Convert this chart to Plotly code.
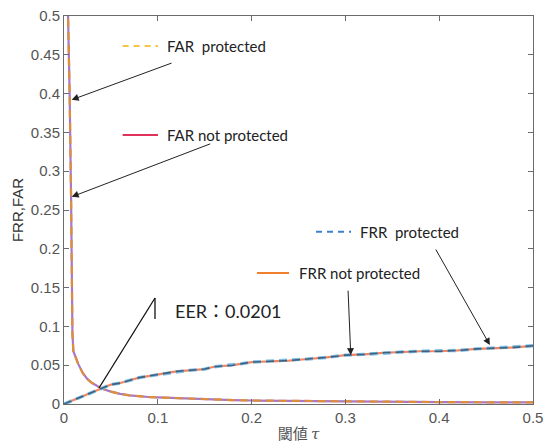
import plotly.graph_objects as go

# ---------------- data ----------------
tau_far = [0.003, 0.0045, 0.006, 0.0075, 0.0085, 0.009, 0.01, 0.015, 0.02, 0.025, 0.03, 0.035,
           0.04, 0.05, 0.06, 0.07, 0.08, 0.09, 0.1, 0.12, 0.14, 0.16, 0.18, 0.2, 0.25, 0.3,
           0.35, 0.4, 0.45, 0.5]
far_not_protected = [0.58, 0.50, 0.40, 0.27, 0.15, 0.09, 0.068, 0.052, 0.040, 0.032, 0.027, 0.023,
                     0.020, 0.016, 0.013, 0.011, 0.0098, 0.009, 0.0085, 0.0075, 0.0065, 0.0055, 0.005,
                     0.0045, 0.0038, 0.0032, 0.0028, 0.0025, 0.0022, 0.002]
far_protected = [0.58, 0.50, 0.40, 0.27, 0.15, 0.09, 0.068, 0.052, 0.040, 0.032, 0.027, 0.023,
                 0.020, 0.016, 0.013, 0.011, 0.0098, 0.009, 0.0085, 0.0075, 0.0065, 0.0055, 0.005,
                 0.0045, 0.0038, 0.0032, 0.0028, 0.0025, 0.0022, 0.002]

tau_frr = [0, 0.01, 0.02, 0.03, 0.04, 0.05, 0.06, 0.07, 0.08, 0.09, 0.1, 0.11, 0.12, 0.13, 0.14,
           0.15, 0.16, 0.17, 0.18, 0.19, 0.2, 0.22, 0.24, 0.26, 0.28, 0.3, 0.32, 0.34, 0.36,
           0.38, 0.4, 0.42, 0.44, 0.46, 0.48, 0.5]
frr_not_protected = [0, 0.005, 0.010, 0.016, 0.020, 0.025, 0.027, 0.031, 0.034, 0.036, 0.038, 0.040,
                     0.042, 0.043, 0.044, 0.045, 0.048, 0.049, 0.050, 0.052, 0.054, 0.055, 0.056,
                     0.058, 0.060, 0.063, 0.064, 0.066, 0.067, 0.068, 0.068, 0.069, 0.071, 0.072,
                     0.073, 0.075]
frr_protected = [0, 0.005, 0.010, 0.016, 0.020, 0.025, 0.027, 0.031, 0.034, 0.036, 0.038, 0.040,
                 0.042, 0.043, 0.044, 0.045, 0.048, 0.049, 0.050, 0.052, 0.054, 0.055, 0.056,
                 0.058, 0.060, 0.063, 0.064, 0.066, 0.067, 0.068, 0.068, 0.069, 0.071, 0.072,
                 0.073, 0.075]

eer_text = "EER：0.0201"
x_ticks = [0, 0.1, 0.2, 0.3, 0.4, 0.5]
x_ticklabels = ["0", "0.1", "0.2", "0.3", "0.4", "0.5"]
y_ticks = [0, 0.05, 0.1, 0.15, 0.2, 0.25, 0.3, 0.35, 0.4, 0.45, 0.5]
y_ticklabels = ["0", "0.05", "0.1", "0.15", "0.2", "0.25", "0.3", "0.35", "0.4", "0.45", "0.5"]

# ---------------- figure ----------------
DASH = "8px,5px"
fig = go.Figure()
fig.add_trace(go.Scatter(x=tau_far, y=far_not_protected, mode="lines",
                         line=dict(color="#A878C8", width=2.2), name="FAR not protected"))
fig.add_trace(go.Scatter(x=tau_far, y=far_protected, mode="lines",
                         line=dict(color="#DE8E3A", width=2.2, dash=DASH), name="FAR protected"))
fig.add_trace(go.Scatter(x=tau_frr, y=frr_not_protected, mode="lines",
                         line=dict(color="#F28660", width=2.2), name="FRR not protected"))
fig.add_trace(go.Scatter(x=tau_frr, y=frr_protected, mode="lines",
                         line=dict(color="#7EC0EA", width=3.4, dash=DASH), name="FRR protected",
                         showlegend=False))
fig.add_trace(go.Scatter(x=tau_frr, y=frr_protected, mode="lines",
                         line=dict(color="#40607E", width=1.6, dash=DASH), name="FRR protected"))

LBL = dict(family="Lato, Noto Sans, sans-serif", size=15, color="#222222")
ann = []
shapes = []

def legend_item(x0, x1, y, color, dash, text, tx):
    shapes.append(dict(type="line", xref="x", yref="y", x0=x0, x1=x1, y0=y, y1=y,
                       line=dict(color=color, width=2, dash=dash)))
    ann.append(dict(x=tx, y=y, xref="x", yref="y", text=text, showarrow=False,
                    xanchor="left", yanchor="middle", font=LBL))

legend_item(0.0625, 0.1002, 0.4613, "#F7C446", "6px,5px", "FAR&nbsp;&nbsp;protected", 0.1077)
legend_item(0.0625, 0.1002, 0.3466, "#E0325A", "solid", "FAR not protected", 0.1077)
legend_item(0.2687, 0.3060, 0.2220, "#3C80C8", "6px,5px", "FRR&nbsp;&nbsp;protected", 0.3134)
legend_item(0.2058, 0.2399, 0.1688, "#F07F2E", "solid", "FRR not protected", 0.2484)

def arrow(hx, hy, tx, ty):
    ann.append(dict(x=hx, y=hy, ax=tx, ay=ty, xref="x", yref="y", axref="x", ayref="y",
                    text="", showarrow=True, arrowhead=2, arrowsize=1.4, arrowwidth=1,
                    arrowcolor="#222222"))

arrow(0.0082, 0.392, 0.1162, 0.440)
arrow(0.0082, 0.267, 0.1575, 0.336)
arrow(0.3057, 0.0631, 0.3028, 0.148)
arrow(0.4540, 0.0760, 0.3955, 0.201)

# EER pointer line and bar
shapes.append(dict(type="line", xref="x", yref="y", x0=0.097, y0=0.1366, x1=0.0373, y1=0.0206,
                   line=dict(color="#111111", width=1.3)))
shapes.append(dict(type="line", xref="x", yref="y", x0=0.097, y0=0.1366, x1=0.097, y1=0.1095,
                   line=dict(color="#111111", width=1.3)))
ann.append(dict(x=0.1162, y=0.1198, xref="x", yref="y", text=eer_text, showarrow=False,
                xanchor="left", yanchor="middle",
                font=dict(family="Lato, Noto Sans CJK JP, sans-serif", size=18, color="#222222")))

axis_common = dict(showgrid=False, zeroline=False, showline=True, linecolor="#6b6b6b",
                   linewidth=1, mirror="ticks", ticks="inside", ticklen=5, tickcolor="#6b6b6b",
                   automargin=False,
                   tickfont=dict(family="Liberation Sans, Arial, sans-serif", size=15, color="#555555"))

fig.update_layout(
    width=545, height=443,
    margin=dict(l=64, r=12, t=16, b=39, autoexpand=False),
    paper_bgcolor="white", plot_bgcolor="white",
    showlegend=False,
    xaxis=dict(range=[0, 0.5], tickvals=x_ticks, ticktext=x_ticklabels,
               title=dict(text="閾値 <i style='font-family:DejaVu Serif'>τ</i>", standoff=3,
                          font=dict(family="Noto Sans CJK JP, sans-serif", size=15, color="#555555")),
               **axis_common),
    yaxis=dict(range=[0, 0.5], tickvals=y_ticks, ticktext=y_ticklabels,
               title=dict(text="FRR,FAR", standoff=3,
                          font=dict(family="Liberation Sans, Arial, sans-serif", size=15, color="#333333")),
               **axis_common),
    shapes=shapes, annotations=ann,
)

fig.write_html("out.html", config={"displayModeBar": False},
               post_script="document.body.style.margin='0px';")
